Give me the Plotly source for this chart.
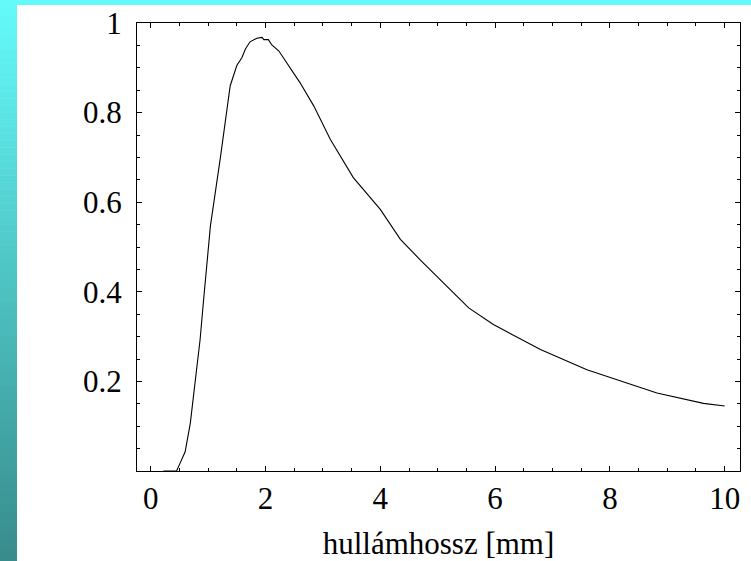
import plotly.graph_objects as go

# Data
wavelength_mm = [0.22, 0.41, 0.45, 0.51, 0.60, 0.69, 0.775, 0.86, 0.92, 1.04, 1.21,
                 1.385, 1.50, 1.59, 1.65, 1.73, 1.85, 1.94, 1.97, 2.05, 2.11, 2.23,
                 2.60, 2.72, 2.84, 3.13, 3.53, 4.0, 4.35, 4.69, 5.22, 5.54, 5.97,
                 6.79, 7.60, 8.82, 9.63, 10.0]
intensity = [0.0, 0.0, 0.0, 0.017, 0.043, 0.107, 0.204, 0.293, 0.38, 0.547, 0.696,
             0.86, 0.905, 0.923, 0.942, 0.958, 0.966, 0.968, 0.963, 0.963, 0.951, 0.938,
             0.867, 0.841, 0.815, 0.74, 0.655, 0.584, 0.517, 0.472, 0.405, 0.364, 0.327,
             0.271, 0.226, 0.174, 0.151, 0.145]

x_tick_vals = [0, 2, 4, 6, 8, 10]
x_tick_text = ["0", "2", "4", "6", "8", "10"]
y_tick_vals = [0.2, 0.4, 0.6, 0.8, 1.0]
y_tick_text = ["0.2", "0.4", "0.6", "0.8", "1"]
x_title = "hullámhossz [mm]"

W, H = 751, 561
ML, MR, MT, MB = 137, 11, 23, 90
PW, PH = W - ML - MR, H - MT - MB
X_RANGE = [-0.239, 10.267]
Y_RANGE = [0, 1]

def px_to_paper_x(px):
    return (px - ML) / PW

def px_to_paper_y(py):
    return 1 - (py - MT) / PH

fig = go.Figure()
fig.add_trace(go.Scatter(x=wavelength_mm, y=intensity, mode="lines",
                         line=dict(color="black", width=1.1), hoverinfo="skip",
                         showlegend=False))
# same data on mirrored axes (invisible) so the top/right tick axes are drawn
fig.add_trace(go.Scatter(x=wavelength_mm, y=intensity, mode="lines", xaxis="x2", yaxis="y2",
                         line=dict(color="rgba(0,0,0,0)", width=0), hoverinfo="skip",
                         showlegend=False))

shapes = []
shapes.append(dict(type="rect", xref="paper", yref="paper", layer="below",
                   x0=px_to_paper_x(0), x1=px_to_paper_x(W),
                   y0=px_to_paper_y(5), y1=px_to_paper_y(0),
                   fillcolor="rgb(100,250,250)", line=dict(width=0)))
n = 80
c0 = (100, 250, 250)
c1 = (56, 140, 140)
for i in range(n):
    t = i / (n - 1)
    col = tuple(int(round(c0[k] + (c1[k] - c0[k]) * t)) for k in range(3))
    y0 = H * i / n
    y1 = min(H * (i + 1) / n + 0.5, H)
    shapes.append(dict(type="rect", xref="paper", yref="paper", layer="below",
                       x0=px_to_paper_x(0), x1=px_to_paper_x(17),
                       y0=px_to_paper_y(y1), y1=px_to_paper_y(y0),
                       fillcolor="rgb(%d,%d,%d)" % col, line=dict(width=0)))

font_family = "Liberation Serif"
FS = 31

common = dict(showgrid=False, zeroline=False, showline=True, linecolor="black",
              linewidth=1.3, ticks="inside", ticklen=5, tickwidth=1, tickcolor="black",
              fixedrange=True, automargin=False)

fig.update_layout(
    width=W, height=H,
    margin=dict(l=ML, r=MR, t=MT, b=MB, pad=0),
    paper_bgcolor="white", plot_bgcolor="white",
    font=dict(family=font_family, size=FS, color="black"),
    shapes=shapes,
    xaxis=dict(range=X_RANGE, tickvals=x_tick_vals, ticktext=x_tick_text,
               minor=dict(ticks="inside", ticklen=3, tickwidth=1, dtick=0.5,
                          tickcolor="black", showgrid=False),
               tickfont=dict(size=FS, family=font_family),
               title=dict(text=x_title, font=dict(size=FS, family=font_family),
                          standoff=20),
               **common),
    yaxis=dict(range=Y_RANGE, tickvals=y_tick_vals, ticktext=y_tick_text,
               minor=dict(ticks="inside", ticklen=3, tickwidth=1, dtick=0.05,
                          tickcolor="black", showgrid=False),
               tickfont=dict(size=FS, family=font_family),
               ticklabelstandoff=8,
               **common),
    xaxis2=dict(range=X_RANGE, overlaying="x", side="top", anchor="y",
                tickvals=x_tick_vals, showticklabels=False,
                minor=dict(ticks="inside", ticklen=3, tickwidth=1, dtick=0.5,
                           tickcolor="black", showgrid=False),
                **common),
    yaxis2=dict(range=Y_RANGE, overlaying="y", side="right", anchor="x",
                tickvals=y_tick_vals, showticklabels=False,
                minor=dict(ticks="inside", ticklen=3, tickwidth=1, dtick=0.05,
                           tickcolor="black", showgrid=False),
                **common),
)

post = ("document.body.style.margin='0';document.body.style.padding='0';"
        "var gd=document.getElementById('{plot_id}');"
        "gd.style.position='fixed';gd.style.left='0px';gd.style.top='0px';")

fig.write_html("out.html", post_script=post, config={"displayModeBar": False})
